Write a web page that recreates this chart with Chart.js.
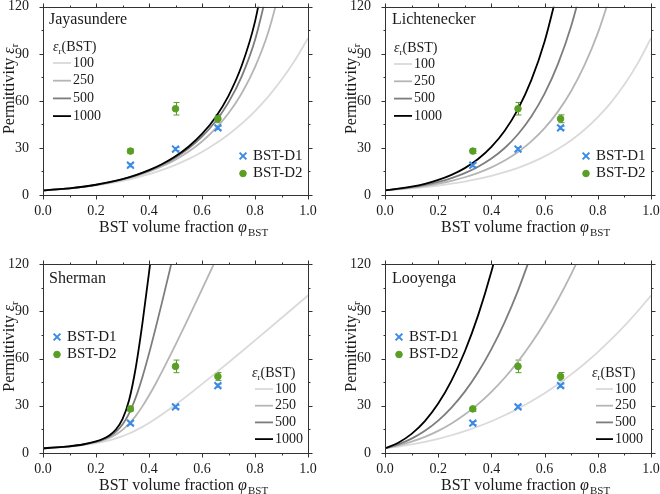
<!DOCTYPE html>
<html>
<head>
<meta charset="utf-8">
<script src="https://cdn.jsdelivr.net/npm/chart.js@4.4.1/dist/chart.umd.min.js"></script>
<style>
body { margin: 0; background: #fff; width: 660px; height: 494px; position: relative; overflow: hidden; }
canvas { position: absolute; }
</style>
</head>
<body>
<canvas id="c1" width="330" height="247" style="left:0;top:0"></canvas>
<canvas id="c2" width="330" height="247" style="left:330px;top:0"></canvas>
<canvas id="c3" width="330" height="247" style="left:0;top:247px"></canvas>
<canvas id="c4" width="330" height="247" style="left:330px;top:247px"></canvas>
<script>
// volume fraction grid used by three of the models
const phiGrid = [0, 0.05, 0.1, 0.15, 0.2, 0.25, 0.3, 0.35, 0.4, 0.45, 0.5, 0.55, 0.6, 0.65, 0.7, 0.75, 0.8, 0.85, 0.9, 0.95, 1.0];
// Sherman panel is read on a finer grid around the threshold
const phiSherman = [0, 0.05, 0.1, 0.15, 0.2, 0.225, 0.25, 0.275, 0.3, 0.325, 0.35, 0.375, 0.4, 0.425, 0.45, 0.475, 0.5, 0.55, 0.6, 0.65, 0.7, 0.75, 0.8, 0.85, 0.9, 0.95, 1.0];

const epsLabels = ["100", "250", "500", "1000"];

const jay100 = [3, 3.49, 4.15, 5.01, 6.09, 7.42, 9.04, 10.98, 13.30, 16.04, 19.26, 23.04, 27.46, 32.60, 38.56, 45.48, 53.49, 62.75, 73.44, 85.78, 100];
const jay250 = [3, 3.52, 4.24, 5.18, 6.38, 7.89, 9.76, 12.07, 14.89, 18.34, 22.57, 27.75, 34.15, 42.11, 52.12, 64.90, 81.55, 103.79, 134.62];
const jay500 = [3, 3.53, 4.27, 5.24, 6.49, 8.07, 10.04, 12.48, 15.52, 19.27, 23.94, 29.79, 37.18, 46.66, 59.05, 75.68, 98.82, 132.73];
const jay1000 = [3, 3.54, 4.28, 5.27, 6.54, 8.16, 10.18, 12.71, 15.85, 19.78, 24.70, 30.92, 38.91, 49.32, 63.25, 82.53, 110.54, 154.23];

const lic100 = [3, 3.57, 4.26, 5.08, 6.05, 7.21, 8.59, 10.24, 12.20, 14.53, 17.32, 20.64, 24.60, 29.31, 34.93, 41.61, 49.60, 59.1, 70.4, 83.9, 100];
const lic250 = [3, 3.74, 4.67, 5.82, 7.27, 9.06, 11.31, 14.11, 17.60, 21.95, 27.39, 34.17, 42.62, 53.17, 66.33, 82.75, 103.2, 128.8];
const lic500 = [3, 3.87, 5.00, 6.46, 8.35, 10.78, 13.92, 17.98, 23.22, 29.99, 38.73, 50.02, 64.60, 83.43, 107.8, 139.2];
const lic1000 = [3, 4.01, 5.36, 7.17, 9.59, 12.82, 17.14, 22.91, 30.64, 40.97, 54.77, 73.23, 97.91, 130.9];

const she100 = [3, 3.47, 4.10, 4.98, 6.22, 7.04, 8.04, 9.24, 10.69, 12.39, 14.37, 16.60, 19.07, 21.74, 24.58, 27.56, 30.65, 37.07, 43.73, 50.54, 57.46, 64.45, 71.50, 78.58, 85.70, 92.84, 100];
const she250 = [3, 3.51, 4.21, 5.23, 6.85, 8.03, 9.62, 11.76, 14.69, 18.59, 23.58, 29.60, 36.48, 43.99, 51.94, 60.22, 68.71, 86.13, 103.91, 121.9, 140.0];
const she500 = [3, 3.52, 4.25, 5.34, 7.14, 8.54, 10.54, 13.51, 18.10, 25.13, 35.22, 48.14, 63.09, 79.30, 96.27, 113.71, 131.46];
const she1000 = [3, 3.52, 4.27, 5.40, 7.31, 8.86, 11.17, 14.90, 21.48, 33.63, 54.13, 82.09, 114.32, 148.7];

const loo100 = [3, 4.11, 5.47, 7.10, 9.03, 11.27, 13.86, 16.82, 20.17, 23.94, 28.15, 32.83, 38.00, 43.68, 49.91, 56.70, 64.08, 72.08, 80.71, 90.01, 100];
const loo250 = [3, 4.79, 7.17, 10.23, 14.06, 18.75, 24.38, 31.03, 38.79, 47.76, 58.00, 69.62, 82.69, 97.31, 113.55, 131.50];
const loo500 = [3, 5.52, 9.15, 14.11, 20.60, 28.82, 38.98, 51.29, 65.95, 83.16, 103.14, 126.08];
const loo1000 = [3, 6.54, 12.14, 20.26, 31.37, 45.95, 64.46, 87.38, 115.17, 148.31];

// measured samples
const samplePhi = [0.33, 0.5, 0.66];
const d1Values = [19.0, 29.3, 42.8];
const d1Err = [1.0, 1.0, 1.0];
const d2Values = [28.0, 55.0, 48.6];
const d2Err = [1.5, 4.0, 2.5];

const xTicks = [0, 0.2, 0.4, 0.6, 0.8, 1.0];
const yTicks = [0, 30, 60, 90, 120];

const lineColors = ["#dadada", "#b5b5b5", "#7d7d7d", "#000000"];
const d1Color = "#3b8ae6";
const d2Color = "#5a9e26";
const inkColor = "#1a1a1a";
const serif = '"Liberation Serif", "Times New Roman", serif';

function pairs(phi, vals) {
    return vals.map((v, i) => ({ x: phi[i], y: v }));
}

function drawYTitle(ctx, x, cy) {
    ctx.save();
    ctx.translate(x, cy);
    ctx.rotate(-Math.PI / 2);
    ctx.fillStyle = inkColor;
    ctx.textBaseline = "alphabetic";
    ctx.textAlign = "left";
    ctx.font = "16px " + serif;
    const w1 = ctx.measureText("Permittivity ").width;
    ctx.font = "italic 16px " + serif;
    const w2 = ctx.measureText("ε").width;
    ctx.font = "11px " + serif;
    const w3 = ctx.measureText("r").width;
    let sx = -(w1 + w2 + w3) / 2;
    ctx.font = "16px " + serif;
    ctx.fillText("Permittivity ", sx, 0);
    ctx.font = "italic 16px " + serif;
    ctx.fillText("ε", sx + w1, 0);
    ctx.font = "11px " + serif;
    ctx.fillText("r", sx + w1 + w2, 4);
    ctx.restore();
}

function drawXTitle(ctx, x, y) {
    ctx.save();
    ctx.fillStyle = inkColor;
    ctx.textBaseline = "alphabetic";
    ctx.textAlign = "left";
    ctx.font = "16px " + serif;
    ctx.fillText("BST volume fraction ", x, y);
    const w1 = ctx.measureText("BST volume fraction ").width;
    ctx.font = "italic 16px " + serif;
    ctx.fillText("φ", x + w1, y);
    const w2 = ctx.measureText("φ").width;
    ctx.font = "11px " + serif;
    ctx.fillText("BST", x + w1 + w2 + 1, y + 4);
    ctx.restore();
}

function drawEpsHeader(ctx, x, y) {
    ctx.save();
    ctx.fillStyle = inkColor;
    ctx.textBaseline = "alphabetic";
    ctx.textAlign = "left";
    ctx.font = "italic 14px " + serif;
    ctx.fillText("ε", x, y);
    const w1 = ctx.measureText("ε").width;
    ctx.font = "9px " + serif;
    ctx.fillText("r", x + w1, y + 3);
    const w2 = ctx.measureText("r").width;
    ctx.font = "14px " + serif;
    ctx.fillText("(BST)", x + w1 + w2, y);
    ctx.restore();
}

function makeDecor(cfg) {
    return {
        id: "decor",
        beforeDatasetsDraw(chart) {
            const ctx = chart.ctx;
            const xs = chart.scales.x, ys = chart.scales.y;
            const bars = [[d1Values, d1Err, d1Color], [d2Values, d2Err, d2Color]];
            ctx.save();
            bars.forEach(([vals, errs, col]) => {
                ctx.strokeStyle = col;
                ctx.lineWidth = 1;
                vals.forEach((v, i) => {
                    const px = Math.round(xs.getPixelForValue(samplePhi[i])) + 0.5;
                    const top = ys.getPixelForValue(v + errs[i]);
                    const bot = ys.getPixelForValue(v - errs[i]);
                    ctx.beginPath();
                    ctx.moveTo(px, top); ctx.lineTo(px, bot);
                    ctx.moveTo(px - 3, top); ctx.lineTo(px + 3, top);
                    ctx.moveTo(px - 3, bot); ctx.lineTo(px + 3, bot);
                    ctx.stroke();
                });
            });
            ctx.restore();
        },
        afterDraw(chart) {
            const ctx = chart.ctx;
            const a = chart.chartArea;
            const xs = chart.scales.x, ys = chart.scales.y;
            ctx.save();
            ctx.strokeStyle = "#333";
            ctx.lineWidth = 1;
            const L = Math.round(a.left) + 0.5, R = Math.round(a.right) + 0.5;
            const T = Math.round(a.top) + 0.5, B = Math.round(a.bottom) + 0.5;
            ctx.strokeRect(L, T, R - L, B - T);
            ctx.beginPath();
            for (let k = 0; k <= 10; k++) {
                const px = Math.round(xs.getPixelForValue(k / 10)) + 0.5;
                const len = k % 2 === 0 ? 4 : 2;
                ctx.moveTo(px, B); ctx.lineTo(px, B + len);
                ctx.moveTo(px, T); ctx.lineTo(px, T - len);
            }
            for (let k = 0; k <= 8; k++) {
                const py = Math.round(ys.getPixelForValue(k * 15)) + 0.5;
                const len = k % 2 === 0 ? 4 : 2;
                ctx.moveTo(L, py); ctx.lineTo(L - len, py);
                ctx.moveTo(R, py); ctx.lineTo(R + len, py);
            }
            ctx.stroke();
            ctx.restore();

            drawYTitle(ctx, a.left - 29, (a.top + a.bottom) / 2 - 12);
            drawXTitle(ctx, a.left + 56, a.bottom + 37);

            ctx.save();
            ctx.fillStyle = inkColor;
            ctx.font = "16px " + serif;
            ctx.textBaseline = "middle";
            ctx.fillText(cfg.name, cfg.nameX, cfg.nameY);
            ctx.restore();

            // curve legend
            drawEpsHeader(ctx, cfg.legX, cfg.legY);
            ctx.save();
            ctx.font = "14px " + serif;
            ctx.textBaseline = "middle";
            ctx.fillStyle = inkColor;
            epsLabels.forEach((lab, i) => {
                const ds = chart.data.datasets[i];
                const y = cfg.legY + 12 + i * cfg.legStep;
                ctx.strokeStyle = ds.borderColor;
                ctx.lineWidth = ds.borderWidth;
                ctx.beginPath();
                ctx.moveTo(cfg.legX + cfg.lineX0, y);
                ctx.lineTo(cfg.legX + cfg.lineX1, y);
                ctx.stroke();
                ctx.fillText(lab, cfg.legX + cfg.lineX1 + 2, y);
            });
            ctx.restore();

            // sample legend
            ctx.save();
            ctx.font = "15px " + serif;
            ctx.textBaseline = "middle";
            [4, 5].forEach((di, i) => {
                const ds = chart.data.datasets[di];
                const y = cfg.mkY + i * 17.5;
                ctx.strokeStyle = ds.borderColor;
                ctx.fillStyle = ds.backgroundColor;
                ctx.lineWidth = ds.borderWidth;
                Chart.helpers.drawPoint(ctx, { pointStyle: ds.pointStyle, radius: ds.pointRadius, rotation: 0, borderWidth: ds.borderWidth }, cfg.mkX, y);
                ctx.fillStyle = inkColor;
                ctx.fillText(ds.label, cfg.mkX + 10, y);
            });
            ctx.restore();
        }
    };
}

function makePanel(id, cfg) {
    const curves = cfg.curves.map((vals, i) => ({
        label: epsLabels[i],
        data: pairs(cfg.phi, vals),
        showLine: true,
        borderColor: lineColors[i],
        borderWidth: 1.8,
        pointRadius: 0,
        cubicInterpolationMode: "monotone",
        order: 10 - i
    }));
    const d1 = {
        label: "BST-D1",
        data: pairs(samplePhi, d1Values),
        pointStyle: "crossRot",
        pointRadius: 4.8,
        borderWidth: 2,
        borderColor: d1Color,
        backgroundColor: d1Color,
        showLine: false,
        order: 1
    };
    const d2 = {
        label: "BST-D2",
        data: pairs(samplePhi, d2Values),
        pointStyle: "circle",
        pointRadius: 3.3,
        borderWidth: 1,
        borderColor: d2Color,
        backgroundColor: d2Color,
        showLine: false,
        order: 0
    };
    const W = 330, H = 247;
    return new Chart(document.getElementById(id), {
        type: "scatter",
        data: { datasets: curves.concat([d1, d2]) },
        options: {
            responsive: false,
            animation: false,
            devicePixelRatio: 1,
            layout: { padding: { left: 0, top: cfg.top, right: W - cfg.right, bottom: 0 } },
            plugins: { legend: { display: false }, tooltip: { enabled: false } },
            scales: {
                x: {
                    type: "linear",
                    min: 0, max: 1,
                    afterBuildTicks: s => { s.ticks = xTicks.map(v => ({ value: v })); },
                    afterFit: s => { s.height = H - cfg.bottom; s.paddingLeft = 0; s.paddingRight = 0; },
                    grid: { display: false },
                    border: { display: false },
                    ticks: {
                        padding: 0,
                        maxRotation: 0,
                        color: inkColor,
                        font: { family: serif, size: 14 },
                        callback: v => v.toFixed(1)
                    }
                },
                y: {
                    type: "linear",
                    min: 0, max: 120,
                    afterBuildTicks: s => { s.ticks = yTicks.map(v => ({ value: v })); },
                    afterFit: s => { s.width = cfg.left; s.paddingTop = 0; s.paddingBottom = 0; },
                    grid: { display: false },
                    border: { display: false },
                    ticks: {
                        padding: 6,
                        color: inkColor,
                        font: { family: serif, size: 14 }
                    }
                }
            }
        },
        plugins: [makeDecor(cfg)]
    });
}

makePanel("c1", {
    name: "Jayasundere", phi: phiGrid, curves: [jay100, jay250, jay500, jay1000],
    left: 43, top: 6, right: 308, bottom: 195,
    nameX: 49, nameY: 20,
    legX: 53, legY: 51, legStep: 17.7, lineX0: 0, lineX1: 18,
    mkX: 243, mkY: 156
});
makePanel("c2", {
    name: "Lichtenecker", phi: phiGrid, curves: [lic100, lic250, lic500, lic1000],
    left: 55, top: 6, right: 321, bottom: 195,
    nameX: 62, nameY: 20,
    legX: 64, legY: 52, legStep: 17.3, lineX0: 0, lineX1: 18,
    mkX: 256, mkY: 156
});
makePanel("c3", {
    name: "Sherman", phi: phiSherman, curves: [she100, she250, she500, she1000],
    left: 43, top: 17, right: 308, bottom: 206,
    nameX: 49, nameY: 32,
    legX: 252, legY: 130, legStep: 16.7, lineX0: 3, lineX1: 21,
    mkX: 57, mkY: 90
});
makePanel("c4", {
    name: "Looyenga", phi: phiGrid, curves: [loo100, loo250, loo500, loo1000],
    left: 55, top: 17, right: 321, bottom: 206,
    nameX: 62, nameY: 32,
    legX: 262, legY: 130, legStep: 16.7, lineX0: 4, lineX1: 21,
    mkX: 69, mkY: 90
});
</script>
</body>
</html>
